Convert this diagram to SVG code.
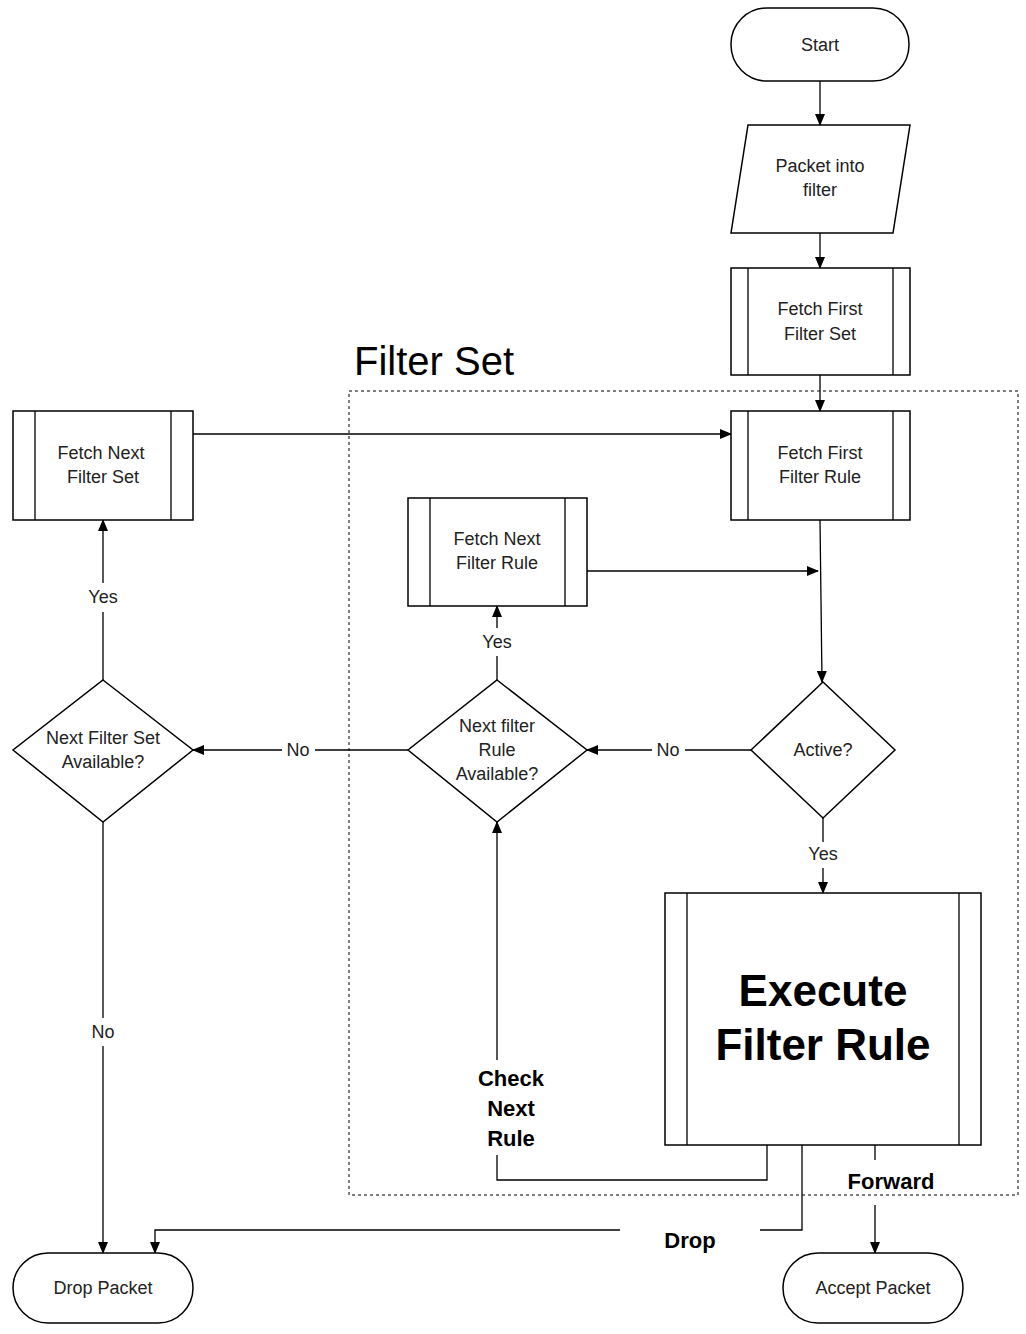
<svg xmlns="http://www.w3.org/2000/svg" width="1026" height="1334" viewBox="0 0 1026 1334">
<style>
.s{fill:#fff;stroke:#000;stroke-width:1.5}
.l{fill:none;stroke:#000;stroke-width:1.3}
.t{font-family:"Liberation Sans",Arial,sans-serif;font-size:18px;fill:#222;text-anchor:middle}
.b{font-family:"Liberation Sans",Arial,sans-serif;font-weight:bold;fill:#000;text-anchor:middle}
</style>
<defs><marker id="a" markerWidth="12" markerHeight="10" refX="11" refY="5" orient="auto" markerUnits="userSpaceOnUse"><path d="M0,0 L12,5 L0,10 Z" fill="#000"/></marker></defs>
<rect x="349" y="391" width="669" height="804" fill="none" stroke="#000" stroke-dasharray="3,3"/>
<text x="354" y="375" font-family="Liberation Sans,Arial,sans-serif" font-size="40" fill="#000">Filter Set</text>
<g id="connectors" class="l">
<path d="M820,81V125" marker-end="url(#a)"/>
<path d="M820,233V268" marker-end="url(#a)"/>
<path d="M820,375V411" marker-end="url(#a)"/>
<path d="M193,434H731" marker-end="url(#a)"/>
<path d="M587,571H818" marker-end="url(#a)"/>
<path d="M820,520L822,682" marker-end="url(#a)"/>
<path d="M751,750H685M652,750H587" marker-end="url(#a)"/>
<path d="M497,680V656M497,628V606" marker-end="url(#a)"/>
<path d="M408,750H315M282,750H193" marker-end="url(#a)"/>
<path d="M103,680V612M103,583V520" marker-end="url(#a)"/>
<path d="M103,822V1018M103,1046V1253" marker-end="url(#a)"/>
<path d="M823,818V842M823,868V893" marker-end="url(#a)"/>
<path d="M767,1145V1180H497V1155M497,1060V822" marker-end="url(#a)"/>
<path d="M802,1145V1230H760M620,1230H155V1253" marker-end="url(#a)"/>
<path d="M875,1145V1160M875,1205V1253" marker-end="url(#a)"/>
</g>
<g class="t">
<text x="668" y="756">No</text><text x="497" y="648">Yes</text><text x="298" y="756">No</text>
<text x="103" y="603">Yes</text><text x="103" y="1038">No</text><text x="823" y="860">Yes</text>
</g>
<g id="start"><rect class="s" x="731" y="8" width="178" height="73" rx="36"/><text class="t" x="820" y="51">Start</text></g>
<g id="packet"><path class="s" d="M748,125H910L893,233H731Z"/><text class="t" x="820" y="172">Packet into</text><text class="t" x="820" y="196">filter</text></g>
<g id="ffs"><rect class="s" x="731" y="268" width="179" height="107"/><path class="l" d="M748,268V375M893,268V375"/><text class="t" x="820" y="315">Fetch First</text><text class="t" x="820" y="340">Filter Set</text></g>
<g id="ffr"><rect class="s" x="731" y="411" width="179" height="109"/><path class="l" d="M748,411V520M893,411V520"/><text class="t" x="820" y="459">Fetch First</text><text class="t" x="820" y="483">Filter Rule</text></g>
<g id="fns"><rect class="s" x="13" y="411" width="180" height="109"/><path class="l" d="M35,411V520M171,411V520"/><text class="t" x="101" y="459">Fetch Next</text><text class="t" x="103" y="483">Filter Set</text></g>
<g id="fnr"><rect class="s" x="408" y="498" width="179" height="108"/><path class="l" d="M430,498V606M565,498V606"/><text class="t" x="497" y="545">Fetch Next</text><text class="t" x="497" y="569">Filter Rule</text></g>
<g id="active"><path class="s" d="M823,682L895,750L823,818L751,750Z"/><text class="t" x="823" y="756">Active?</text></g>
<g id="nfr"><path class="s" d="M497,680L587,750L497,822L408,750Z"/><text class="t" x="497" y="732">Next filter</text><text class="t" x="497" y="756">Rule</text><text class="t" x="497" y="780">Available?</text></g>
<g id="nfs"><path class="s" d="M103,680L193,750L103,822L13,750Z"/><text class="t" x="103" y="744">Next Filter Set</text><text class="t" x="103" y="768">Available?</text></g>
<g id="exec"><rect class="s" x="665" y="893" width="316" height="252"/><path class="l" d="M687,893V1145M959,893V1145"/><text class="b" x="823" y="1006" font-size="44">Execute</text><text class="b" x="823" y="1060" font-size="44">Filter Rule</text></g>
<g class="b" font-size="22"><text x="511" y="1086">Check</text><text x="511" y="1116">Next</text><text x="511" y="1146">Rule</text><text x="891" y="1189">Forward</text><text x="690" y="1248">Drop</text></g>
<g id="drop"><rect class="s" x="13" y="1253" width="180" height="70" rx="35"/><text class="t" x="103" y="1294">Drop Packet</text></g>
<g id="accept"><rect class="s" x="783" y="1253" width="180" height="70" rx="35"/><text class="t" x="873" y="1294">Accept Packet</text></g>
</svg>
